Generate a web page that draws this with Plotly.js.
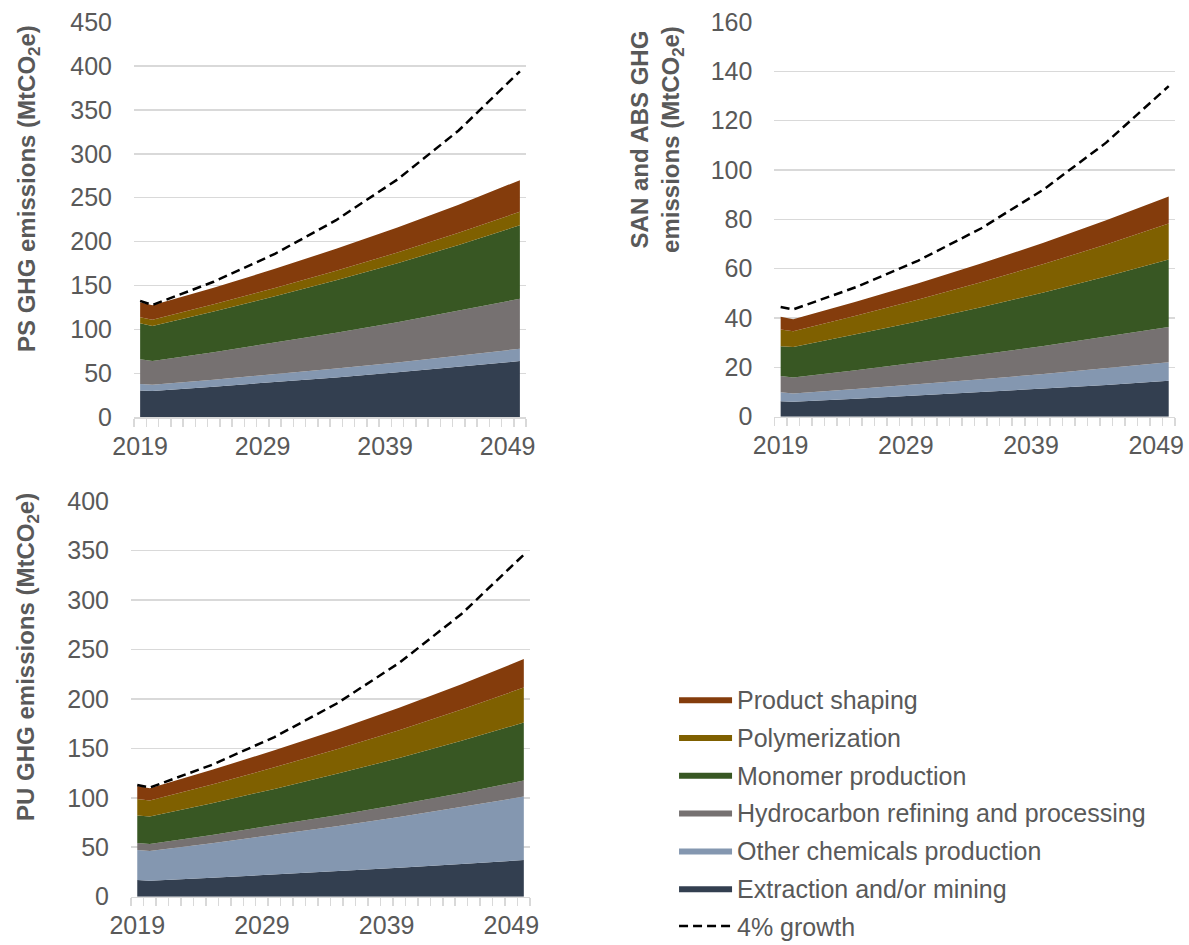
<!DOCTYPE html>
<html>
<head>
<meta charset="utf-8">
<script src="https://cdn.plot.ly/plotly-3.0.1.min.js"></script>
<style>html,body{margin:0;padding:0;background:#fff;}#chart{width:1189px;height:945px;}</style>
</head>
<body>
<div id="chart"></div>
<script>
// ---- data ----
const years = [2019, 2020, 2025, 2030, 2035, 2040, 2045, 2050];
const tickYears = [2019, 2029, 2039, 2049];
const seriesNames = ["Extraction and/or mining", "Other chemicals production", "Hydrocarbon refining and processing", "Monomer production", "Polymerization", "Product shaping"];
const growthName = "4% growth";

// PS (MtCO2e)
const psExtraction = [30.5, 30.0, 34.9, 40.0, 45.4, 51.2, 57.4, 64.0];
const psOtherChem  = [7.5, 7.0, 8.0, 9.1, 10.2, 11.3, 12.6, 14.0];
const psHydro      = [28.0, 27.0, 31.3, 35.8, 40.6, 45.7, 51.2, 57.0];
const psMonomer    = [41.0, 40.0, 46.2, 52.8, 59.8, 67.2, 75.1, 83.6];
const psPolymer    = [7.0, 7.0, 8.2, 9.5, 10.8, 12.2, 13.7, 15.4];
const psShaping    = [17.0, 16.5, 18.8, 21.8, 25.1, 28.5, 32.1, 36.0];
const psGrowth     = [132.6, 127.9, 154.3, 186.1, 224.4, 270.7, 326.5, 393.9];

// SAN and ABS (MtCO2e)
const sanExtraction = [6.3, 6.1, 7.3, 8.6, 10.0, 11.4, 12.9, 14.6];
const sanOtherChem  = [3.6, 3.3, 3.9, 4.5, 5.2, 5.9, 6.7, 7.5];
const sanHydro      = [6.6, 6.5, 7.6, 8.8, 10.0, 11.4, 12.8, 14.3];
const sanMonomer    = [12.1, 12.4, 14.6, 16.8, 19.2, 21.7, 24.4, 27.3];
const sanPolymer    = [6.8, 6.4, 7.5, 8.8, 10.1, 11.5, 13.0, 14.6];
const sanShaping    = [5.1, 4.8, 5.7, 6.6, 7.6, 8.6, 9.8, 11.0];
const sanGrowth     = [44.5, 43.5, 52.5, 63.3, 76.3, 92.1, 111.1, 134.0];

// PU (MtCO2e)
const puExtraction = [16.9, 16.2, 19.2, 22.3, 25.7, 29.2, 33.0, 37.1];
const puOtherChem  = [30.3, 30.0, 34.9, 40.1, 45.5, 51.3, 57.5, 64.1];
const puHydro      = [7.1, 7.1, 8.4, 9.7, 11.2, 12.7, 14.4, 16.2];
const puMonomer    = [27.7, 27.7, 32.1, 36.9, 41.8, 47.0, 52.7, 58.7];
const puPolymer    = [16.9, 16.2, 18.9, 21.8, 24.9, 28.2, 31.6, 35.4];
const puShaping    = [13.1, 12.4, 14.8, 17.2, 19.8, 22.6, 25.5, 28.7];
const puGrowth     = [113.0, 110.3, 133.4, 161.4, 195.3, 236.3, 285.8, 345.8];

// ---- styling ----
const colors = ["#333F50", "#8497B0", "#767171", "#385723", "#7F6000", "#843C0C"];
const ranks = [6, 5, 4, 3, 2, 1];
const txt = "#595959";
const grid = "#D9D9D9";
const FONT = "Liberation Sans, Arial, sans-serif";

function panel(stacks, growth, xa, ya, show, sg) {
  const out = stacks.map((vals, i) => ({
    type: "scatter", mode: "lines", x: years, y: vals,
    xaxis: xa, yaxis: ya, stackgroup: sg, name: seriesNames[i],
    fillcolor: colors[i], line: {width: 0, color: colors[i]},
    showlegend: show, legendgroup: "g" + i, legendrank: ranks[i],
    hoverinfo: "x+y+name"
  }));
  out.push({
    type: "scatter", mode: "lines", x: years, y: growth, xaxis: xa, yaxis: ya,
    name: growthName, line: {color: "#000000", width: 2.5, dash: "9px,5px"},
    showlegend: show, legendgroup: "g6", legendrank: 7
  });
  return out;
}

const data = [].concat(
  panel([psExtraction, psOtherChem, psHydro, psMonomer, psPolymer, psShaping], psGrowth, "x", "y", true, "ps"),
  panel([sanExtraction, sanOtherChem, sanHydro, sanMonomer, sanPolymer, sanShaping], sanGrowth, "x2", "y2", false, "san"),
  panel([puExtraction, puOtherChem, puHydro, puMonomer, puPolymer, puShaping], puGrowth, "x3", "y3", false, "pu")
);

function xAxis(domain, anchor) {
  return {
    domain: domain, anchor: anchor, range: [2018.5, 2050.5], type: "linear",
    tickmode: "array", tickvals: tickYears, ticktext: tickYears.map(String),
    ticks: "", showgrid: false, zeroline: false,
    showline: true, linecolor: grid, linewidth: 1.5,
    tickfont: {family: FONT, size: 25, color: txt}, ticklabelstandoff: 6,
    minor: {tickmode: "linear", tick0: 2018.5, dtick: 1, ticks: "outside", ticklen: 8, tickcolor: grid, tickwidth: 1.5, showgrid: false},
    fixedrange: true
  };
}
function yAxis(domain, anchor, max, dtick) {
  return {
    domain: domain, anchor: anchor, range: [0, max], dtick: dtick, tick0: 0,
    showgrid: true, gridcolor: grid, gridwidth: 1.5, zeroline: false, showline: false,
    ticks: "", tickfont: {family: FONT, size: 25, color: txt}, ticklabelstandoff: 21,
    fixedrange: true
  };
}

const titleFont = {family: FONT, size: 24, color: txt, weight: "bold"};
const layout = {
  width: 1189, height: 945,
  margin: {l: 0, r: 0, t: 0, b: 0, autoexpand: false},
  paper_bgcolor: "#ffffff", plot_bgcolor: "#ffffff",
  font: {family: FONT, color: txt},
  showlegend: true,
  xaxis: xAxis([0.1127, 0.4424], "y"),
  yaxis: yAxis([0.5584, 0.9767], "x", 450, 50),
  xaxis2: xAxis([0.6513, 0.9882], "y2"),
  yaxis2: yAxis([0.5590, 0.9767], "x2", 160, 20),
  xaxis3: xAxis([0.1102, 0.4458], "y3"),
  yaxis3: yAxis([0.0511, 0.4698], "x3", 400, 50),
  legend: {
    x: 0.5669, y: 0.2842, xanchor: "left", yanchor: "top",
    traceorder: "grouped", tracegroupgap: 2.3,
    font: {family: FONT, size: 25, color: txt},
    bgcolor: "rgba(0,0,0,0)", itemwidth: 53
  },
  annotations: [
    {text: "PS GHG emissions (MtCO<sub>2</sub>e)", xref: "paper", yref: "paper", x: 0.0235, y: 0.801,
     xanchor: "center", yanchor: "middle", textangle: -90, showarrow: false, font: titleFont},
    {text: "SAN and ABS GHG<br>emissions (MtCO<sub>2</sub>e)", xref: "paper", yref: "paper", x: 0.5526, y: 0.852,
     xanchor: "center", yanchor: "middle", textangle: -90, showarrow: false, font: titleFont, align: "center"},
    {text: "PU GHG emissions (MtCO<sub>2</sub>e)", xref: "paper", yref: "paper", x: 0.0235, y: 0.3048,
     xanchor: "center", yanchor: "middle", textangle: -90, showarrow: false, font: titleFont}
  ]
};

Plotly.newPlot("chart", data, layout, {displayModeBar: false, staticPlot: true});
</script>
</body>
</html>
